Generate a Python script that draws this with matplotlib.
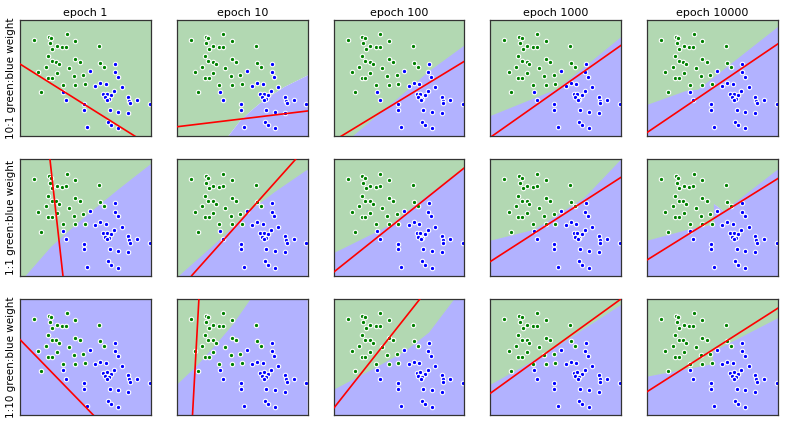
import numpy as np
import matplotlib
matplotlib.use("Agg")
import matplotlib.pyplot as plt

# ---- data (axes-fraction coordinates, both axes span 0..1) ----
green_x = [0.107, 0.221, 0.239, 0.356, 0.422, 0.226, 0.280, 0.323, 0.354, 0.247,
           0.606, 0.214, 0.242, 0.277, 0.298, 0.422, 0.455, 0.196, 0.372, 0.140,
           0.280, 0.412, 0.483, 0.613, 0.644, 0.214, 0.244, 0.326, 0.422, 0.496, 0.160]
green_y = [0.829, 0.853, 0.844, 0.876, 0.821, 0.798, 0.775, 0.766, 0.769, 0.751,
           0.777, 0.688, 0.645, 0.642, 0.618, 0.665, 0.642, 0.595, 0.584, 0.549,
           0.540, 0.517, 0.529, 0.633, 0.595, 0.500, 0.500, 0.442, 0.442, 0.445, 0.379]
blue_x = [0.728, 0.537, 0.725, 0.746, 0.613, 0.575, 0.656, 0.776, 0.331, 0.720,
          0.636, 0.664, 0.697, 0.649, 0.679, 0.667, 0.354, 0.827, 0.835, 0.840,
          0.893, 0.990, 0.489, 0.489, 0.684, 0.751, 0.827, 0.514, 0.674, 0.697, 0.751]
blue_y = [0.624, 0.558, 0.549, 0.509, 0.460, 0.436, 0.448, 0.422, 0.384, 0.390,
          0.364, 0.367, 0.355, 0.335, 0.324, 0.312, 0.312, 0.341, 0.306, 0.283,
          0.312, 0.277, 0.275, 0.228, 0.225, 0.211, 0.199, 0.078, 0.124, 0.095, 0.069]

epochs = ["epoch 1", "epoch 10", "epoch 100", "epoch 1000", "epoch 10000"]
row_labels = ["10:1 green:blue weight", "1:1 green:blue weight", "1:10 green:blue weight"]

# linear classifier lines: y = intercept + slope * x
line_intercept = [
    [0.621, 0.081, -0.040, -0.010, 0.032],
    [3.313, -0.144, 0.029, 0.121, 0.135],
    [0.649, -2.45, 0.057, 0.187, 0.201],
]
line_slope = [
    [-0.707, 0.136, 0.685, 0.793, 0.763],
    [-10.1, 1.261, 0.899, 0.726, 0.701],
    [-1.159, 20.4, 1.427, 0.813, 0.719],
]

# decision-region boundaries (green above, blue below)
boundary_x = [
    [[0, 1], [0, 0.387, 0.476, 0.552, 0.628, 0.718, 0.819, 1.0],
     [0, 0.148, 0.57, 0.72, 1.0], [0, 0.517, 1.0], [0, 0.30, 0.39, 1.0]],
    [[0, 0.046, 0.24, 0.49, 0.75, 1.0], [0, 0.02, 0.35, 0.55, 0.75, 1.0],
     [0, 0.445, 0.623, 1.0], [0, 0.338, 0.72, 1.0], [0, 0.33, 0.51, 0.51, 0.587, 1.0]],
    [[0, 1], [0, 0.16, 0.31, 0.43, 0.566, 1.0], [0, 0.31, 0.55, 0.73, 0.925, 1.0],
     [0, 0.415, 1.0], [0, 0.50, 0.505, 1.0]],
]
boundary_y = [
    [[-1, -1], [-0.57, 0, 0.13, 0.211, 0.283, 0.355, 0.428, 0.529],
     [-0.16, 0, 0.40, 0.55, 0.78], [0.173, 0.408, 0.853], [0.269, 0.39, 0.40, 0.94]],
    [[-0.05, 0, 0.25, 0.50, 0.74, 0.96], [-0.02, 0, 0.33, 0.55, 0.72, 0.913],
     [0.192, 0.44, 0.607, 0.928], [0.300, 0.395, 0.669, 1.0], [0.300, 0.40, 0.44, 0.617, 0.553, 0.914]],
    [[2, 2], [0.259, 0.43, 0.62, 0.78, 1.0, 2.0], [0.216, 0.40, 0.55, 0.71, 1.0, 1.12],
     [0.259, 0.52, 0.948], [0.330, 0.437, 0.546, 0.833]],
]

GREEN_BG = "#b2d8b2"
BLUE_BG = "#b2b2ff"

fig, axes = plt.subplots(3, 5, figsize=(7.89, 4.25), dpi=100)
fig.subplots_adjust(left=20 / 789, right=778 / 789, top=1 - 20 / 425, bottom=1 - 415 / 425,
                    wspace=0.198, hspace=0.2)

for r in range(3):
    for c in range(5):
        ax = axes[r, c]
        bx = np.array(boundary_x[r][c], dtype=float)
        by = np.array(boundary_y[r][c], dtype=float)
        ax.fill_between(bx, by, 3, color=GREEN_BG, lw=0, zorder=0)
        ax.fill_between(bx, -3, by, color=BLUE_BG, lw=0, zorder=0)
        ax.plot(green_x, green_y, "o", color="green", ms=3.2, mec="white", mew=0.8, zorder=2)
        ax.plot(blue_x, blue_y, "o", color="blue", ms=3.2, mec="white", mew=0.8, zorder=2)
        ax.axline((0, line_intercept[r][c]), slope=line_slope[r][c], color="red", lw=1.2, zorder=3)
        ax.set_xlim(0, 1)
        ax.set_ylim(0, 1)
        ax.set_xticks([])
        ax.set_yticks([])
        for s in ax.spines.values():
            s.set_color("#333333")
            s.set_linewidth(0.9)
        if r == 0:
            ax.set_title(epochs[c], fontsize=8, pad=3)
        if c == 0:
            ax.set_ylabel(row_labels[r], fontsize=7.5, labelpad=3)

fig.savefig("out.png", dpi=100)
